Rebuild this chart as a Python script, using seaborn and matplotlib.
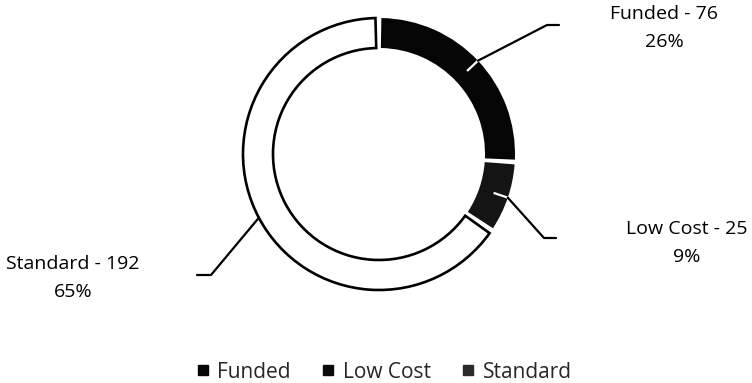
import numpy as np
import matplotlib.pyplot as plt
import seaborn as sns
from matplotlib.lines import Line2D

sns.set_theme(style="white")
plt.rcParams['font.family'] = ['Open Sans', 'DejaVu Sans']

# data
categories = ["Funded", "Low Cost", "Standard"]
counts = [76, 25, 192]
percents = ["26%", "9%", "65%"]

colors = ["#050505", "#141414", "#ffffff"]
legend_colors = ["#050505", "#0a0a0a", "#2a2a2a"]

W, H = 752, 383
fig = plt.figure(figsize=(W / 100, H / 100), dpi=100)
ax = fig.add_axes([0, 0, 1, 1])

# donut geometry in pixel units (y measured from top, flipped below)
cx, cy = 379, H - 154
r_out, ring = 136, 30

wedges, _ = ax.pie(counts, colors=colors, startangle=90, counterclock=False,
                   radius=r_out, center=(cx, cy),
                   wedgeprops=dict(width=ring, linewidth=0))
# small white gaps between the slices, outline only on the light slice
gap = 1.0
for w, col in zip(wedges, colors):
    w.set_theta1(w.theta1 + gap)
    w.set_theta2(w.theta2 - gap)
    if col == "#ffffff":
        w.set_edgecolor("black")
        w.set_linewidth(1.9)
        w.set_theta1(w.theta1 + 0.5)
        w.set_theta2(w.theta2 - 0.5)

# leader lines and labels
elbows = {"Funded": [(547, 25), (559, 25)],
          "Low Cost": [(544, 238), (556, 238)],
          "Standard": [(211, 275), (197, 275)]}
label_pos = {"Funded": (664, 28), "Low Cost": (687, 243), "Standard": (73, 278)}

for w, cat, n, pct, col in zip(wedges, categories, counts, percents, colors):
    mid = np.deg2rad((w.theta1 + w.theta2) / 2)
    r_mid = r_out - ring / 2
    p_mid = (cx + r_mid * np.cos(mid), cy + r_mid * np.sin(mid))
    p_out = (cx + r_out * np.cos(mid), cy + r_out * np.sin(mid))
    if col != "#ffffff":
        ax.plot([p_mid[0], p_out[0]], [p_mid[1], p_out[1]], color="white", lw=1.6,
                solid_capstyle="butt")
    xs = [p_out[0]] + [e[0] for e in elbows[cat]]
    ys = [p_out[1]] + [H - e[1] for e in elbows[cat]]
    ax.plot(xs, ys, color="black", lw=1.6)
    tx, ty = label_pos[cat]
    ax.text(tx, H - ty, f"{cat} - {n}\n{pct}", ha="center", va="center",
            fontsize=14, color="black", linespacing=1.65)

ax.set_xlim(0, W)
ax.set_ylim(0, H)
ax.set_aspect("equal")
ax.axis("off")

handles = [Line2D([], [], marker="s", ls="none", color=c, markersize=7)
           for c in legend_colors]
fig.legend(handles, categories, loc="center", bbox_to_anchor=(383 / W, 1 - 372 / H),
           ncol=3, frameon=False, fontsize=15, handletextpad=0.3,
           columnspacing=1.4, handlelength=0.8)

fig.savefig("out.png", dpi=100, facecolor="white")
